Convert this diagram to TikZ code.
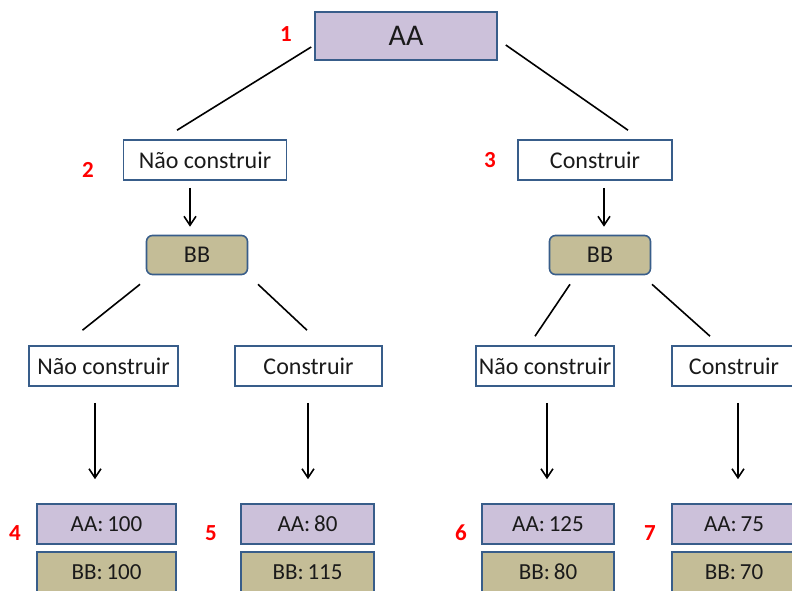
\documentclass[tikz,border=0pt]{standalone}
\usepackage{fontspec}
\setmainfont{Carlito}
\usetikzlibrary{arrows.meta, calc}
\definecolor{lavender}{HTML}{CCC1DA}
\definecolor{khaki}{HTML}{C4BD97}
\definecolor{edge}{HTML}{385D8A}
\definecolor{numred}{HTML}{FF0000}
\definecolor{ink}{HTML}{1A1A1A}
\tikzset{
  box/.style={
    rectangle, draw=edge, fill=white, line width=1.6pt,
    minimum height=40, inner sep=2pt, text=ink,
    font=\fontsize{24}{28}\selectfont
  },
  rootbox/.style={box, fill=lavender, minimum width=182, minimum height=48,
    font=\fontsize{30}{34}\selectfont},
  choicebox/.style={box},
  playerbox/.style={box, fill=khaki, rounded corners=6pt, minimum width=101, minimum height=39},
  payoffa/.style={box, fill=lavender, font=\fontsize{23}{27}\selectfont},
  payoffb/.style={payoffa, fill=khaki},
  stage/.style={text=numred, font=\fontsize{23}{27}\selectfont\bfseries},
  branch/.style={line width=1.6pt, draw=black},
  arrow/.style={-{Straight Barb[length=9pt,width=12pt]}, line width=1.6pt, draw=black},
}

\begin{document}
\begin{tikzpicture}[x=1pt, y=-1pt]
  \useasboundingbox (0,0) rectangle (792,590);

  % first mover
  \node[rootbox] (aa) at (406,36) {AA};
  \node[stage] (s1) at (286,34) {1};

  % AA's choices
  \node[choicebox, minimum width=163] (nc) at (205,160) {Não construir};
  \node[choicebox, minimum width=154] (c) at (595,160) {Construir};
  \node[stage] (s2) at (88,170) {2};
  \node[stage] (s3) at (490,160) {3};

  % second mover
  \node[playerbox] (bbl) at (197,255) {BB};
  \node[playerbox] (bbr) at (600,255) {BB};

  % BB's choices
  \node[choicebox, minimum width=149] (ncl) at (103.5,366) {Não construir};
  \node[choicebox, minimum width=147] (cl) at (308.5,366) {Construir};
  \node[choicebox, minimum width=138] (ncr) at (545,366) {Não construir};
  \node[choicebox, minimum width=124] (cr) at (734,366) {Construir};

  % payoffs
  \node[payoffa, minimum width=139] (p4a) at (106.5,524) {AA:\,100};
  \node[payoffb, minimum width=139] (p4b) at (106.5,572) {BB:\,100};
  \node[payoffa, minimum width=133] (p5a) at (307.5,524) {AA:\,80};
  \node[payoffb, minimum width=133] (p5b) at (307.5,572) {BB:\,115};
  \node[payoffa, minimum width=132] (p6a) at (548,524) {AA:\,125};
  \node[payoffb, minimum width=132] (p6b) at (548,572) {BB:\,80};
  \node[payoffa, minimum width=124] (p7a) at (734,524) {AA:\,75};
  \node[payoffb, minimum width=124] (p7b) at (734,572) {BB:\,70};
  \node[stage] (s4) at (15,533) {4};
  \node[stage] (s5) at (211,533) {5};
  \node[stage] (s6) at (461,533) {6};
  \node[stage] (s7) at (650,533) {7};

  % branches
  \draw[branch] ([shift={(-3,11)}]aa.west) -- ([shift={(-28,-9)}]nc.north);
  \draw[branch] ([shift={(8,9)}]aa.east) -- ([shift={(33,-9)}]c.north);
  \draw[branch] ([shift={(-57,9)}]bbl.south) -- ([shift={(-21,-15)}]ncl.north);
  \draw[branch] ([shift={(61,9)}]bbl.south) -- ([shift={(-1.5,-15)}]cl.north);
  \draw[branch] ([shift={(-30,9)}]bbr.south) -- ([shift={(-10,-9)}]ncr.north);
  \draw[branch] ([shift={(52,9)}]bbr.south) -- ([shift={(-24,-9)}]cr.north);

  % arrows
  \draw[arrow] ([shift={(-15,7)}]nc.south) -- ([shift={(-7,-8)}]bbl.north);
  \draw[arrow] ([shift={(9,7)}]c.south) -- ([shift={(4,-8)}]bbr.north);
  \draw[arrow] ([shift={(-8.5,16)}]ncl.south) -- ([shift={(-11.5,-24)}]p4a.north);
  \draw[arrow] ([shift={(-0.5,16)}]cl.south) -- ([shift={(0.5,-24)}]p5a.north);
  \draw[arrow] ([shift={(2,16)}]ncr.south) -- ([shift={(-1,-24)}]p6a.north);
  \draw[arrow] ([shift={(4,16)}]cr.south) -- ([shift={(4,-24)}]p7a.north);
\end{tikzpicture}
\end{document}
